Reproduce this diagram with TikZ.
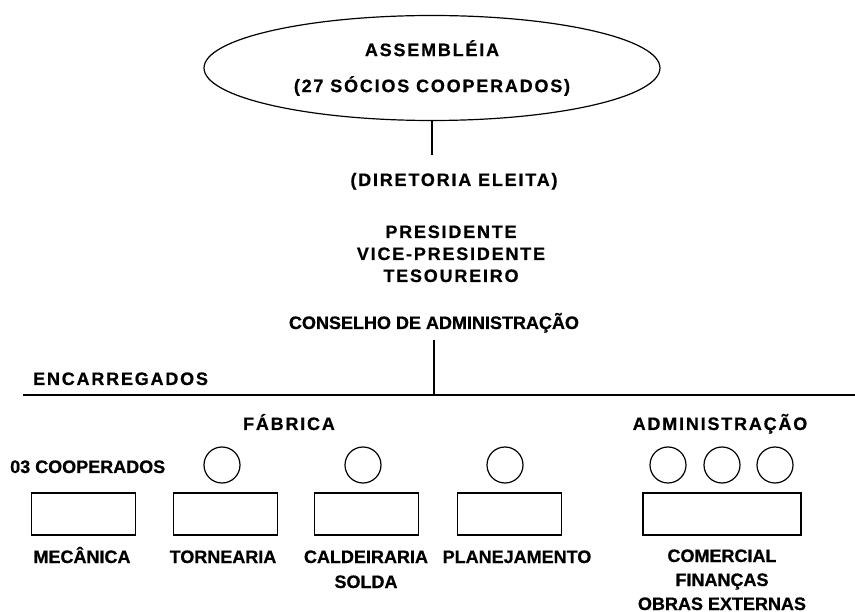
\documentclass[tikz,border=0pt]{standalone}
\usepackage{fontspec}
\setmainfont{Liberation Sans}[BoldFeatures={FakeBold=0.7}]
\newfontfamily\espacado{Liberation Sans}[LetterSpace=10, BoldFeatures={FakeBold=0.7}]
\usetikzlibrary{shapes.geometric,positioning}

\tikzset{
  rotulo/.style={font=\fontsize{18}{25}\selectfont\bfseries, inner sep=0pt, align=center},
  largo/.style={rotulo, font=\espacado\fontsize{18}{25}\selectfont\bfseries},
  posto/.style={draw, circle, minimum size=36pt, inner sep=0pt, line width=1.2pt},
  setor/.style={draw, minimum width=104pt, minimum height=42pt, inner sep=0pt, line width=1.2pt},
  traco/.style={line width=1.2pt},
}

\begin{document}
\begin{tikzpicture}[x=1pt,y=-1pt]
  \useasboundingbox (0,0) rectangle (855,612);

  % assembleia e diretoria
  \node[draw, ellipse, largo, line width=1.2pt, minimum width=456pt, minimum height=105pt] (assembleia) at (432,68) {ASSEMBLÉIA\\[11pt](27 SÓCIOS COOPERADOS)};
  \node[largo, anchor=base] (diretoria) at (454,186) {(DIRETORIA ELEITA)};
  \node[largo, anchor=base, font=\espacado\fontsize{18}{22}\selectfont\bfseries] (membros) at (451,282) {PRESIDENTE\\VICE-PRESIDENTE\\TESOUREIRO};
  \node[rotulo, anchor=base] (conselho) at (434,329) {CONSELHO DE ADMINISTRAÇÃO};

  \coordinate (juncao) at (434,395);
  \coordinate (linhaesq) at (23,395);
  \coordinate (linhadir) at (855,395);

  \draw[traco, shorten >=18pt] (assembleia.south) -- (assembleia.south |- diretoria.north);
  \draw[traco, shorten <=7pt] (conselho.south) -- (juncao);
  \draw[traco] (linhaesq) -- (linhadir);

  % encarregados
  \node[largo, anchor=base west] (encarregados) at (33,385) {ENCARREGADOS};
  \node[largo, anchor=base] (fabrica) at (289,430) {FÁBRICA};
  \node[largo, anchor=base] (administracao) at (720,430) {ADMINISTRAÇÃO};
  \node[rotulo, anchor=base west] (cooperados) at (10,473) {03 COOPERADOS};

  \foreach \nome/\x in {c1/222, c2/363, c3/505, c4/668, c5/722, c6/775}
    \node[posto] (\nome) at (\x,465) {};

  \node[setor] (mecanica) at (83.5,514) {};
  \node[setor] (tornearia) at (225.5,514) {};
  \node[setor] (caldeiraria) at (366.5,514) {};
  \node[setor] (planejamento) at (509.5,514) {};
  \node[setor, minimum width=158pt] (comercial) at (722,514) {};

  \node[rotulo, anchor=base] (lblmecanica) at (82,563) {MECÂNICA};
  \node[rotulo, anchor=base] (lbltornearia) at (223,563) {TORNEARIA};
  \node[rotulo, anchor=base] (lblcaldeiraria) at (366,588) {CALDEIRARIA\\SOLDA};
  \node[rotulo, anchor=base] (lblplanejamento) at (517,563) {PLANEJAMENTO};
  \node[rotulo, anchor=base, font=\fontsize{18}{24}\selectfont\bfseries] (lblcomercial) at (722,610) {COMERCIAL\\FINANÇAS\\OBRAS EXTERNAS};
\end{tikzpicture}
\end{document}
